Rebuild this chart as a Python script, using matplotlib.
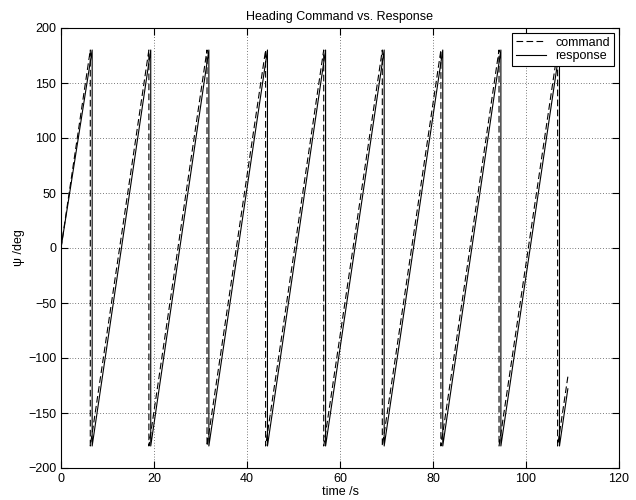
import matplotlib
matplotlib.use('Agg')
import matplotlib.pyplot as plt

plt.rcParams['font.family'] = ['Liberation Sans', 'DejaVu Sans']
plt.rcParams['font.size'] = 9

# sawtooth vertices (time /s, heading /deg)
cmd_t = [0, 6.3, 6.3, 18.9, 18.9, 31.4, 31.4, 44.0, 44.0, 56.5, 56.5,
         69.1, 69.1, 81.7, 81.7, 94.2, 94.2, 106.8, 106.8, 109.0]
cmd_psi = [0, 180, -180, 180, -180, 180, -180, 180, -180, 180, -180,
           180, -180, 180, -180, 180, -180, 180, -180, -117]

resp_t = [0, 6.7, 6.7, 19.3, 19.3, 31.8, 31.8, 44.4, 44.4, 56.9, 56.9,
          69.5, 69.5, 82.1, 82.1, 94.6, 94.6, 107.2, 107.2, 109.0]
resp_psi = [0, 180, -180, 180, -180, 180, -180, 180, -180, 180, -180,
            180, -180, 180, -180, 180, -180, 180, -180, -128]

fig = plt.figure(figsize=(6.36, 5.0), dpi=100)
ax = fig.add_axes([61 / 636, 32 / 500, 558 / 636, 440 / 500])

ax.plot(cmd_t, cmd_psi, color='black', lw=0.8, dashes=(6, 3), label='command')
ax.plot(resp_t, resp_psi, color='black', lw=0.8, label='response')

ax.set_xlim(0, 120)
ax.set_ylim(-200, 200)
ax.set_xticks(range(0, 121, 20))
ax.set_yticks(range(-200, 201, 50))
ax.grid(True, color='black', linestyle=(0, (1, 3)), linewidth=0.5)
ax.tick_params(direction='in', length=5, top=True, right=True, width=0.8)
for s in ax.spines.values():
    s.set_linewidth(0.8)

ax.set_title('Heading Command vs. Response', fontsize=9, pad=6)
ax.set_xlabel('time /s', labelpad=1)
ax.set_ylabel('ψ /deg', labelpad=2)

leg = ax.legend(loc='upper right', fancybox=False, framealpha=1,
                edgecolor='black', borderaxespad=0.4, handlelength=2.4,
                borderpad=0.3, labelspacing=0.1, fontsize=9)
leg.get_frame().set_linewidth(0.8)

fig.savefig('out.png', dpi=100)
